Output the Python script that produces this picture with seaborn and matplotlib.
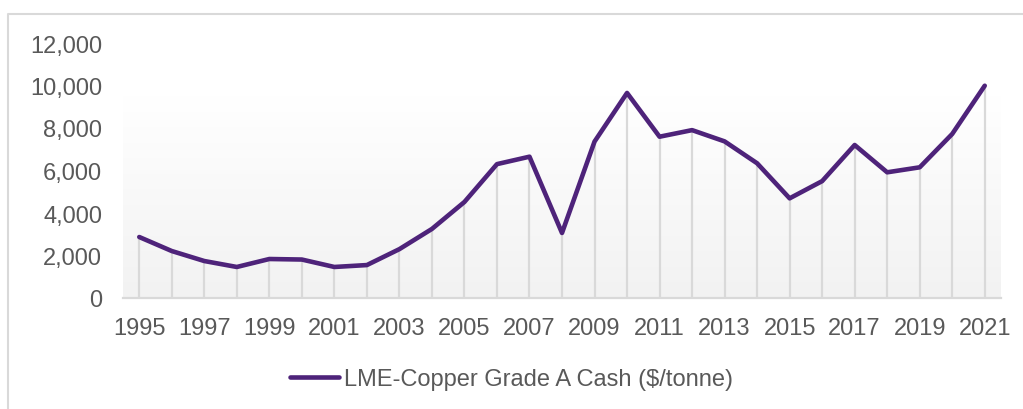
import numpy as np
import pandas as pd
import matplotlib
matplotlib.use("Agg")
import matplotlib.pyplot as plt
from matplotlib.lines import Line2D
from matplotlib.ticker import FuncFormatter
import seaborn as sns

years = list(range(1995, 2022))
prices = [2870, 2210, 1740, 1460, 1835, 1810, 1460, 1550, 2300, 3250,
          4520, 6300, 6650, 3060, 7360, 9650, 7590, 7900, 7370, 6340,
          4690, 5500, 7200, 5915, 6150, 7720, 9990]
series_name = "LME-Copper Grade A Cash ($/tonne)"

df = pd.DataFrame({"year": years, "price": prices})

sns.set_theme(style="white")
plt.rcParams["font.family"] = ["Liberation Sans", "DejaVu Sans"]

W, H = 1023, 410
fig = plt.figure(figsize=(W / 100, H / 100), dpi=100)
ax = fig.add_axes([123 / W, (H - 299) / H, (1001 - 123) / W, (299 - 44) / H])

purple = "#4e237a"
grid_gray = "#d9d9d9"
text_gray = "#595959"

# gradient background behind the series
grad = np.linspace(0, 1, 256).reshape(-1, 1)
ax.imshow(grad, cmap=matplotlib.colors.LinearSegmentedColormap.from_list(
    "g", ["#f2f2f2", "#ffffff"]), aspect="auto", origin="lower",
    extent=[1994.5, 2021.5, 0, 9500], zorder=0)

# drop lines
ax.vlines(df["year"], 0, df["price"], color=grid_gray, lw=1.6, zorder=1)

sns.lineplot(data=df, x="year", y="price", ax=ax, color=purple, lw=3.3,
             label=series_name, zorder=3)
ax.lines[-1].set_solid_capstyle("round")
ax.lines[-1].set_solid_joinstyle("round")

ax.set_xlim(1994.5, 2021.5)
ax.set_ylim(0, 12000)
ax.set_xticks(years[::2])
ax.set_yticks(range(0, 12001, 2000))
ax.yaxis.set_major_formatter(FuncFormatter(lambda v, p: f"{int(v):,}"))
ax.set_xlabel("")
ax.set_ylabel("")
ax.tick_params(axis="both", length=0, labelsize=17, labelcolor=text_gray)
ax.tick_params(axis="y", pad=15)
ax.tick_params(axis="x", pad=13.5)
for s in ["top", "right", "left"]:
    ax.spines[s].set_visible(False)
ax.spines["bottom"].set_color(grid_gray)
ax.spines["bottom"].set_linewidth(1.6)

ax.get_legend().remove()
handle = Line2D([], [], color=purple, lw=3.3, solid_capstyle="round")
fig.legend([handle], [series_name], loc="center", bbox_to_anchor=(0.5, 1 - 380 / H),
           frameon=False, fontsize=17, labelcolor=text_gray,
           handlelength=2.1, handletextpad=0.2)

# chart frame (left and top edges visible)
fig.add_artist(Line2D([8 / W, 8 / W, 1], [0, 1 - 15 / H, 1 - 15 / H],
                      transform=fig.transFigure, color=grid_gray, lw=1.5))

fig.savefig("out.png", dpi=100)
